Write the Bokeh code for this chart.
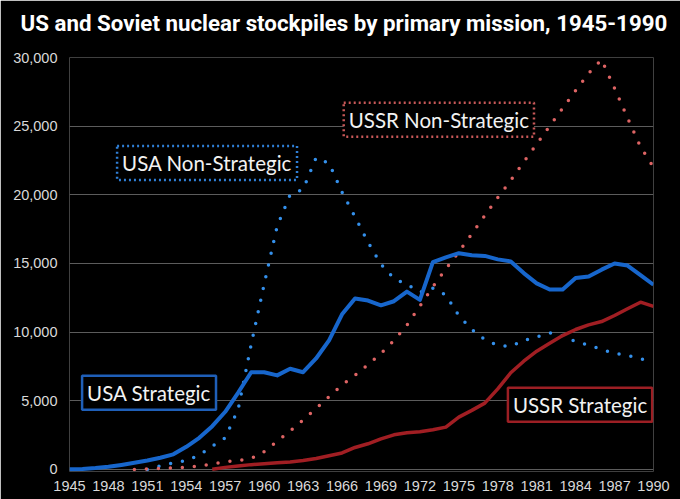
import math
from bokeh.plotting import figure
from bokeh.models import Range1d, Label, FixedTicker, NumeralTickFormatter, Title
from bokeh.embed import file_html
from bokeh.resources import INLINE

nan = float("nan")

years = list(range(1945, 1991))

usa_strategic = [
    10, 40, 100, 200, 330, 480, 650, 850, 1100, 1650,          # 1945-1954
    2300, 3150, 4200, 5600, 7080, 7080, 6850, 7330, 7080, 8080,  # 1955-1964
    9400, 11300, 12450, 12300, 11950, 12250, 12950, 12350, 15100, 15450,  # 1965-1974
    15750, 15600, 15550, 15300, 15150, 14300, 13550, 13100, 13100, 13950,  # 1975-1984
    14050, 14550, 15000, 14850, 14150, 13450,                    # 1985-1990
]

usa_non_strategic = [
    nan, nan, nan, nan, nan, nan, 0, 250, 480, 650,             # 1945-1954
    1050, 1700, 2300, 4400, 9100, 13500, 17700, 20000, 20400, 22700,  # 1955-1964
    22300, 20200, 18400, 16550, 14950, 13900, 13480, 12900, 13200, 12700,  # 1965-1974
    11200, 10200, 9450, 9030, 8950, 9400, 9650, 9950, 9750, 9300,  # 1975-1984
    9050, 8750, 8450, 8300, 8050, 7900,                          # 1985-1990
]

ussr_non_strategic = [
    nan, nan, nan, nan, nan, 0, 25, 70, 120, 160,               # 1945-1954
    250, 400, 560, 640, 800, 1300, 2050, 2800, 3600, 4430,       # 1955-1964
    5300, 6150, 6850, 7640, 8450, 9400, 10500, 11900, 13300, 14600,  # 1965-1974
    15850, 17150, 18500, 19800, 21050, 22400, 23700, 25000, 26300, 27600,  # 1975-1984
    28850, 29850, 27750, 25600, 23500, 22000,                    # 1985-1990
]

ussr_strategic = [
    nan, nan, nan, nan, nan, nan, nan, nan, nan, nan,           # 1945-1954
    nan, 20, 150, 250, 350, 420, 480, 550, 650, 800,             # 1955-1964
    1000, 1200, 1600, 1870, 2230, 2520, 2670, 2740, 2890, 3080,  # 1965-1974
    3810, 4300, 4830, 5870, 7040, 7880, 8610, 9190, 9750, 10190,  # 1975-1984
    10530, 10770, 11210, 11700, 12180, 11870,                    # 1985-1990
]

x_ticks = list(range(1945, 1991, 3))
y_ticks = [0, 5000, 10000, 15000, 20000, 25000, 30000]

title_text = "US and Soviet nuclear stockpiles by primary mission, 1945-1990"

series_labels = ["USA Non-Strategic", "USA Strategic", "USSR Non-Strategic", "USSR Strategic"]
label_x = [1955.6, 1951.13, 1973.46, 1984.34]
label_y = [22320, 5593, 25473, 4704]

BLUE = "#1766cc"
BLUE_DOT = "#3490eb"
RED_DOT = "#de6464"
DARK_RED = "#a11e23"

p = figure(width=680, height=499, output_backend="svg", toolbar_location=None,
           x_range=Range1d(1945, 1990), y_range=Range1d(-150, 30000),
           background_fill_color="black", border_fill_color="black",
           min_border_left=69, min_border_right=27, min_border_top=57,
           min_border_bottom=28)
p.outline_line_color = None

# spacer between the frame and the title (nearest the frame)
spacer = Title(text=" ", text_font_size="1px", text_color="black", standoff=19)
p.add_layout(spacer, "above")

p.title.text = title_text
p.title.text_color = "white"
p.title.text_font = "Roboto"
p.title.text_font_style = "bold"
p.title.text_font_size = "22.3px"
p.title.align = "left"
p.title.offset = -49
p.title.standoff = 0

p.xgrid.visible = False
p.ygrid.grid_line_color = "#5c5c5c"
p.ygrid.grid_line_width = 1

for ax in (p.xaxis, p.yaxis):
    ax.axis_line_color = None
    ax.major_tick_line_color = None
    ax.minor_tick_line_color = None
    ax.major_tick_out = 0
    ax.major_tick_in = 0
    ax.major_label_text_color = "#d9d9d9"
    ax.major_label_text_font = "Liberation Sans"
    ax.major_label_text_font_size = "14.5px"

p.xaxis.ticker = FixedTicker(ticks=x_ticks)
p.yaxis.ticker = FixedTicker(ticks=y_ticks)
p.yaxis.formatter = NumeralTickFormatter(format="0,0")
p.xaxis.major_label_standoff = 9
p.yaxis.major_label_standoff = 12

p.line(years, usa_non_strategic, line_color=BLUE_DOT, line_width=3.5,
       line_dash="0 12", line_cap="round")
p.line(years, ussr_non_strategic, line_color=RED_DOT, line_width=3.5,
       line_dash="0 12", line_cap="round")
p.line(years, ussr_strategic, line_color=DARK_RED, line_width=3.5,
       line_join="round")
p.line(years, usa_strategic, line_color=BLUE, line_width=4,
       line_join="round")

border_colors = ["#2f7fd6", "#1f5fb8", "#c85858", "#9c1f24"]
border_dash = ["2 3", "solid", "2 3", "solid"]
for i, t in enumerate(series_labels):
    lab = Label(x=label_x[i], y=label_y[i], text=t, anchor="center",
                text_align="center", text_baseline="middle",
                text_color="#f2f2f2", text_font="Lato", text_font_size="20.5px",
                border_line_color=border_colors[i], border_line_width=2.5,
                border_line_dash=border_dash[i],
                background_fill_color="black", padding=5)
    p.add_layout(lab)

open("out.html", "w").write(file_html(p, INLINE))
